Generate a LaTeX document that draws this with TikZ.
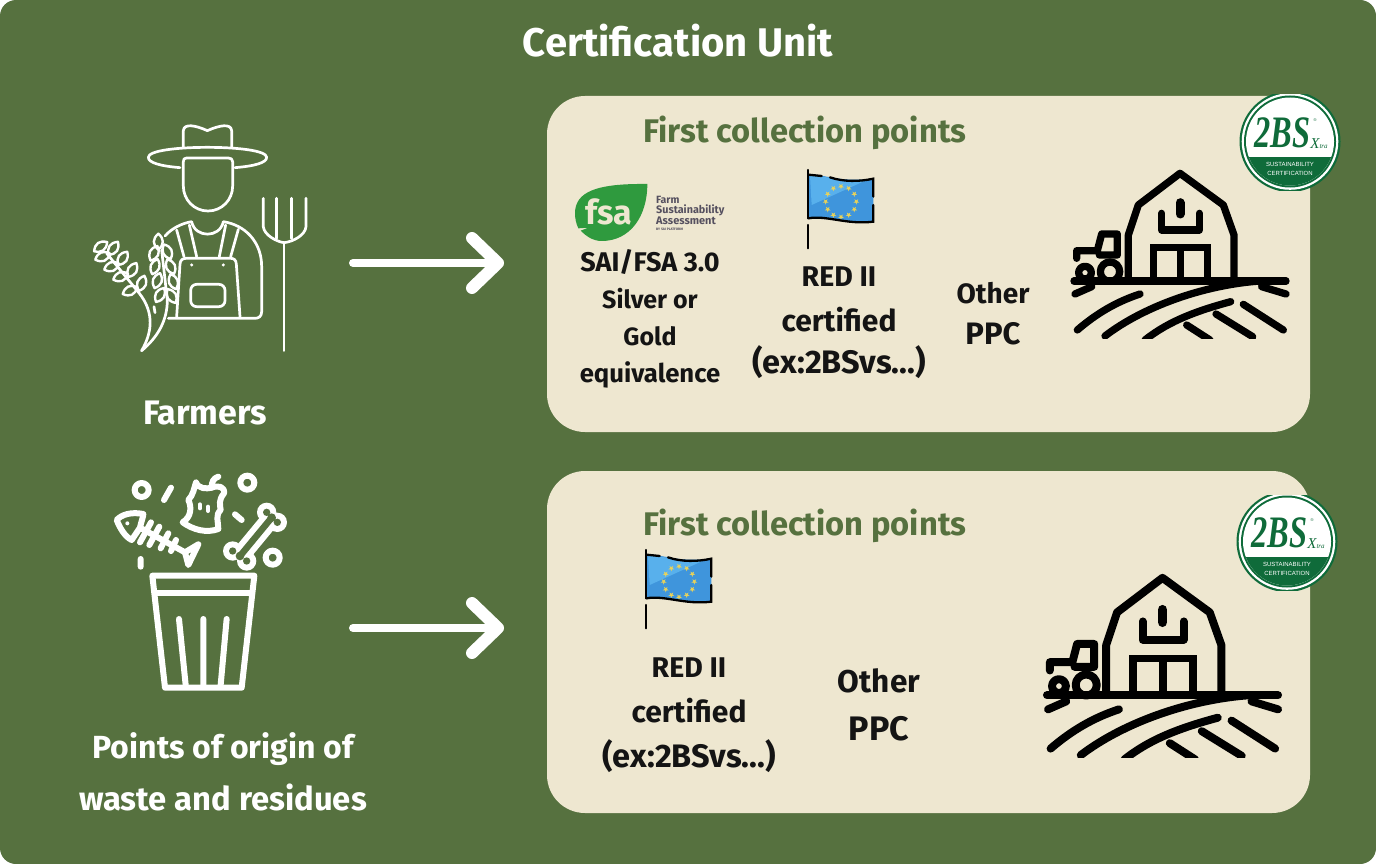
\documentclass[tikz,border=0pt]{standalone}
\usepackage{fontspec}
\setmainfont{Fira Sans}
\usetikzlibrary{arrows.meta,calc}
\definecolor{bgreen}{HTML}{56713F}
\definecolor{panelc}{HTML}{EEE7D0}
\definecolor{bsgreen}{HTML}{0F6B3A}
\definecolor{flagblue}{HTML}{3F95DC}
\definecolor{flaglight}{HTML}{58B0EC}
\definecolor{starc}{HTML}{E8D25A}
\definecolor{fsagreen}{HTML}{2F9A3E}
\definecolor{fsagray}{HTML}{55505F}
\tikzset{
  x=1pt,y=-1pt,
  lbl/.style={font=\bfseries\fontsize{#1}{#1}\selectfont,text=white,inner sep=0pt,anchor=center},
  blk/.style={font=\bfseries\fontsize{#1}{#1}\selectfont,text=black!92,inner sep=0pt,anchor=center},
  head/.style={font=\bfseries\fontsize{32.7}{32.7}\selectfont,text=bgreen,inner sep=0pt,anchor=center},
  panel/.style={fill=panelc,rounded corners=38pt},
  flowarrow/.style={white,line width=8pt,line cap=round,line join=round,-{Straight Barb[length=26pt,width=50pt,line width=12pt,round]}},
  wh/.style={white,line width=2.7pt,line cap=round,line join=round},
  bw/.style={white,line width=6pt,line cap=round,line join=round},
  bk/.style={black,line cap=round,line join=round},
}
\newcommand{\barnicon}[3]{%
 \begin{scope}[shift={(#1,#2)},x=#3/3*1pt,y=-#3/3*1pt]
  \begin{scope}
  \clip (0,0) rectangle (720,745);
  \tikzset{bk/.append style={line width=#3*7.3pt}}
  \draw[bk] (205,565) -- (205,435) -- (235,345) -- (360,250) -- (490,345) -- (522,435) -- (522,570);
  \draw[bk] (305,370) -- (305,420) -- (418,420) -- (418,370);
  \draw[bk,line width=#3*9pt] (360,338) -- (360,372);
  \draw[bk,miter limit=2,line cap=butt,line join=miter] (280,570) -- (280,472) -- (443,472) -- (443,570);
  \draw[bk,line cap=butt] (362,472) -- (362,570);
  \draw[bk] (50,505) -- (50,482) -- (112,482) -- (125,432) -- (172,432) -- (172,495) -- (118,495);
  \draw[bk] (75,548) circle[radius=19];
  \draw[bk] (150,545) circle[radius=29];
  \draw[bk] (42,573) -- (678,573);
  \draw[bk] (45,612) -- (95,590);
  \draw[bk] (52,720) .. controls (110,670) and (170,635) .. (240,612);
  \draw[bk] (135,738) .. controls (250,650) and (430,585) .. (600,573);
  \draw[bk] (255,750) .. controls (330,690) and (420,660) .. (512,635);
  \draw[bk] (380,705) -- (450,750);
  \draw[bk] (468,672) -- (578,740);
  \draw[bk] (550,643) -- (670,720);
  \draw[bk] (605,590) -- (678,612);
  \end{scope}
 \end{scope}}
\newcommand{\euflag}[2]{%
 \begin{scope}[shift={(#1,#2)},x=1/3*1pt,y=-1/3*1pt]
  \fill[flagblue] (745,45) .. controls (790,40) and (840,70) .. (940,55) -- (940,185) .. controls (860,195) and (800,165) .. (745,175) -- cycle;
  \fill[flaglight] (750,48) .. controls (790,45) and (830,65) .. (920,60) -- (755,135) -- cycle;
  \foreach \a in {0,30,...,330}{
    \fill[starc] ($(843,125)+(\a:46)$) +(90:9) -- +(126:3.6) -- +(162:9) -- +(198:3.6) -- +(234:9) -- +(270:3.6) -- +(306:9) -- +(342:3.6) -- +(18:9) -- +(54:3.6) -- cycle;
  }
  \draw[black,line width=2.3pt,line cap=round] (745,30) -- (745,175) (745,195) -- (745,265);
  \draw[black,line width=2.3pt,line cap=round] (745,44) -- (785,48) (810,52) .. controls (850,66) and (900,65) .. (940,56) -- (940,110) (940,135) -- (940,185) .. controls (860,195) and (800,165) .. (745,175);
 \end{scope}}
\newcommand{\bsbadge}[3]{%
 \begin{scope}[shift={(#1,#2)}]
  \begin{scope}
  \clip (-55,-46.5) rectangle (55,48.5);
  \fill[bsgreen] (0,0) circle[radius=50.5];
  \fill[white] (0,0) circle[radius=48.3];
  \fill[bsgreen] (0,0) circle[radius=46];
  \fill[white] (0,0) circle[radius=44];
  \begin{scope}
   \clip (0,0) circle[radius=44];
   \fill[bsgreen] (-50,15.5) rectangle (50,50);
  \end{scope}
  \end{scope}
  \node[inner sep=0pt,xscale=.72,text=bsgreen,font=\fontspec{Liberation Serif}\itshape\bfseries\fontsize{45}{45}\selectfont] (#3a) at (-7.5,-8.5) {2BS};
  \node[inner sep=0pt,text=bsgreen,font=\fontspec{Liberation Serif}\itshape\fontsize{15}{15}\selectfont] (#3b) at (29,2) {X\fontsize{7}{7}\selectfont tra};
  \node[inner sep=0pt,text=bsgreen,font=\fontspec{Liberation Sans}\fontsize{4}{4}\selectfont] (#3d) at (25,-21) {®};
  \node[inner sep=0pt,text=white,font=\fontspec{Liberation Sans}\fontsize{6}{6}\selectfont] (#3e) at (0,23) {SUSTAINABILITY};
  \node[inner sep=0pt,text=white,font=\fontspec{Liberation Sans}\fontsize{6}{6}\selectfont] (#3f) at (0,31.5) {CERTIFICATION};
 \end{scope}}
\begin{document}
\begin{tikzpicture}
\useasboundingbox (0,0) rectangle (1376,864);
\fill[white] (0,0) rectangle (1376,864);
\fill[bgreen,rounded corners=16pt] (0,0) rectangle (1376,864);

\node[lbl=40] (title) at (678,40.5) {Certification Unit};

\fill[panel] (547,96) rectangle (1310,432);
\fill[panel] (547,471) rectangle (1310,813);

% farmer
\begin{scope}[shift={(80,110)},x=1/3*1pt,y=-1/3*1pt]
 \draw[wh] (310,112) -- (310,62) .. controls (312,40) and (345,45) .. (382,62) .. controls (420,45) and (453,40) .. (455,62) -- (455,112);
 \draw[wh] (300,173) .. controls (240,168) and (205,158) .. (205,142) .. controls (205,122) and (290,112) .. (382,112) .. controls (475,112) and (560,122) .. (560,142) .. controls (560,158) and (525,168) .. (465,173);
 \draw[wh] (310,155) .. controls (310,147) and (313,144) .. (320,144) -- (445,144) .. controls (452,144) and (458,147) .. (458,155) -- (458,228) .. controls (458,270) and (425,303) .. (384,303) .. controls (343,303) and (310,270) .. (310,228) -- cycle;
 \draw[wh] (255,378) .. controls (275,355) and (305,340) .. (335,335) .. controls (345,385) and (420,385) .. (430,335) .. controls (495,345) and (545,395) .. (545,470) -- (545,605) .. controls (545,620) and (535,625) .. (525,625) -- (265,625);
 \draw[wh] (290,360) -- (312,440) (328,345) -- (350,440) (437,345) -- (418,440) (475,358) -- (452,440);
 \draw[wh] (290,620) -- (300,462) .. controls (301,450) and (308,445) .. (318,445) -- (452,445) .. controls (462,445) and (468,450) .. (469,462) -- (480,620);
 \fill[white] (335,465) circle[radius=5] (430,465) circle[radius=5];
 \draw[wh,rounded corners=6pt] (332,523) rectangle (435,590);
 \draw[wh] (612,398) -- (612,722);
 \draw[wh] (550,265) -- (550,350) .. controls (552,375) and (590,395) .. (612,398) .. controls (640,395) and (676,375) .. (678,350) -- (678,265);
 \draw[wh] (590,265) -- (590,385) (635,265) -- (635,385);
 % wheat
 \draw[wh] (185,722) .. controls (215,670) and (225,610) .. (178,550) -- (80,430);
 \draw[wh] (185,722) .. controls (235,680) and (262,630) .. (262,570) -- (245,420);
 \draw[wh] (222,590) -- (225,608);
 \foreach \px/\py/\r in {
   62/410/35, 100/415/55, 68/440/22, 128/445/55, 95/470/22, 157/480/60, 122/500/22, 185/520/70, 150/542/25,
   235/395/90, 222/430/65, 262/425/115, 225/470/70, 272/470/115, 232/512/70, 280/515/110, 240/555/60, 275/558/120}{
   \begin{scope}[rotate around={\r:(\px,\py)}]
   \draw[white,line width=2.4pt,line join=round] (\px-24,\py) .. controls (\px-8,\py-18) and (\px+8,\py-18) .. (\px+24,\py) .. controls (\px+8,\py+18) and (\px-8,\py+18) .. cycle;
   \end{scope}
 }
\end{scope}

% trash
\begin{scope}[shift={(90,465)},x=1/3*1pt,y=-1/3*1pt]
 \draw[bw] (155,75) circle[radius=21] (472,53) circle[radius=21] (548,278) circle[radius=21];
 \draw[bw] (222,105) -- (243,68) (152,282) -- (152,305) (435,148) -- (455,165);
 \draw[bw] (187,332) -- (493,332) -- (455,668) -- (225,668) -- cycle;
 \draw[bw] (195,385) -- (485,385);
 \draw[bw] (267,462) -- (287,660) (340,462) -- (340,660) (410,462) -- (392,660);
 % apple core
 \draw[bw] (385,35) .. controls (370,40) and (365,50) .. (365,68);
 \draw[bw] (318,52) .. controls (325,72) and (350,72) .. (365,68) .. controls (385,60) and (405,65) .. (402,85) .. controls (385,105) and (390,120) .. (392,135) .. controls (375,150) and (385,170) .. (385,192) .. controls (350,205) and (310,195) .. (278,172) .. controls (305,155) and (305,125) .. (295,105) .. controls (310,90) and (312,70) .. (318,52);
 \draw[white,line width=4pt,line cap=round] (330,118) -- (330,130) (354,125) -- (354,138);
 % fish
 \draw[bw] (150,188) .. controls (155,165) and (160,155) .. (160,147) .. controls (125,140) and (95,148) .. (80,165) .. controls (90,190) and (105,215) .. (125,225) -- (150,188);
 \fill[white] (112,175) circle[radius=6];
 \draw[bw] (150,188) -- (285,262);
 \draw[bw] (183,172) -- (150,232) (208,185) -- (178,240) (235,205) -- (212,250) (258,225) -- (243,258);
 \draw[bw] (285,262) -- (325,238) -- (295,300) -- cycle;
 % bone
 \draw[white,line width=18.5pt,line cap=butt] (450,273) -- (545,158);
 \fill[white] (428,258) circle[radius=29] (470,288) circle[radius=29] (530,142) circle[radius=29] (562,172) circle[radius=29];
 \draw[bgreen,line width=6.5pt,line cap=butt] (450,273) -- (545,158);
 \fill[bgreen] (428,258) circle[radius=11] (470,288) circle[radius=11] (530,142) circle[radius=11] (562,172) circle[radius=11] (450,273) circle[radius=13] (545,158) circle[radius=13];
\end{scope}

\node[lbl=34] (farmers) at (205,413) {Farmers};
\node[lbl=32] (origin1) at (223,749) {Points of origin of};
\node[lbl=32.8] (origin2) at (223,797) {waste and residues};

% arrows
\coordinate (a1s) at (353,263);
\coordinate (a1e) at (504,263);
\coordinate (a2s) at (353,628);
\coordinate (a2e) at (504,628);
\draw[flowarrow] (a1s) -- (a1e);
\draw[flowarrow] (a2s) -- (a2e);

\node[head] (h1) at (805,133) {First collection points};
\node[head] (h2) at (805,526) {First collection points};

% fsa logo
\begin{scope}[shift={(560,160)},x=1/3*1pt,y=-1/3*1pt]
 \fill[fsagreen] (45,160) .. controls (45,95) and (110,70) .. (262,72) .. controls (262,170) and (210,243) .. (125,243) .. controls (100,243) and (80,230) .. (62,212) -- (85,203) -- (55,205) .. controls (48,190) and (45,175) .. (45,160) -- cycle;
\end{scope}
\node[inner sep=0pt,text=panelc,font=\bfseries\fontsize{34}{34}\selectfont] (fsa) at (609,212) {fsa};
\node[inner sep=0pt,anchor=west,text=fsagray,font=\bfseries\fontsize{10.5}{10.5}\selectfont] (fsa1) at (656,200) {Farm};
\node[inner sep=0pt,anchor=west,text=fsagray,font=\bfseries\fontsize{10.8}{10.8}\selectfont] (fsa2) at (656,210.5) {Sustainability};
\node[inner sep=0pt,anchor=west,text=fsagray,font=\bfseries\fontsize{11}{11}\selectfont] (fsa3) at (656,221) {Assessment};
\node[inner sep=0pt,anchor=west,text=fsagray,font=\bfseries\fontsize{3.4}{3.4}\selectfont] (fsa4) at (656,229.5) {BY SAI PLATFORM};

\node[blk=27] (s1) at (650,262) {SAI/FSA 3.0};
\node[blk=25] (s2) at (650,299) {Silver or};
\node[blk=25] (s3) at (650,336) {Gold};
\node[blk=25.7] (s4) at (650,375) {equivalence};
\euflag{560}{160}
\node[blk=28.5] (r1) at (839,277) {RED II};
\node[blk=30] (r2) at (839,320) {certified};
\node[blk=32.5] (r3) at (839,362) {(ex:2BSvs...)};
\node[blk=28] (o1) at (993,293) {Other};
\node[blk=31] (o2) at (993,334) {PPC};
\barnicon{1060}{90}{1}
\bsbadge{1290}{141.5}{bt}

\euflag{398}{540}
\node[blk=28.5] (r4) at (689,668) {RED II};
\node[blk=30] (r5) at (689,711) {certified};
\node[blk=32.5] (r6) at (689,756) {(ex:2BSvs...)};
\node[blk=31.5] (o3) at (879,681) {Other};
\node[blk=34] (o4) at (879,729) {PPC};
\barnicon{1031.7}{487}{1.09}
\bsbadge{1287}{541.5}{bb}
\end{tikzpicture}
\end{document}
